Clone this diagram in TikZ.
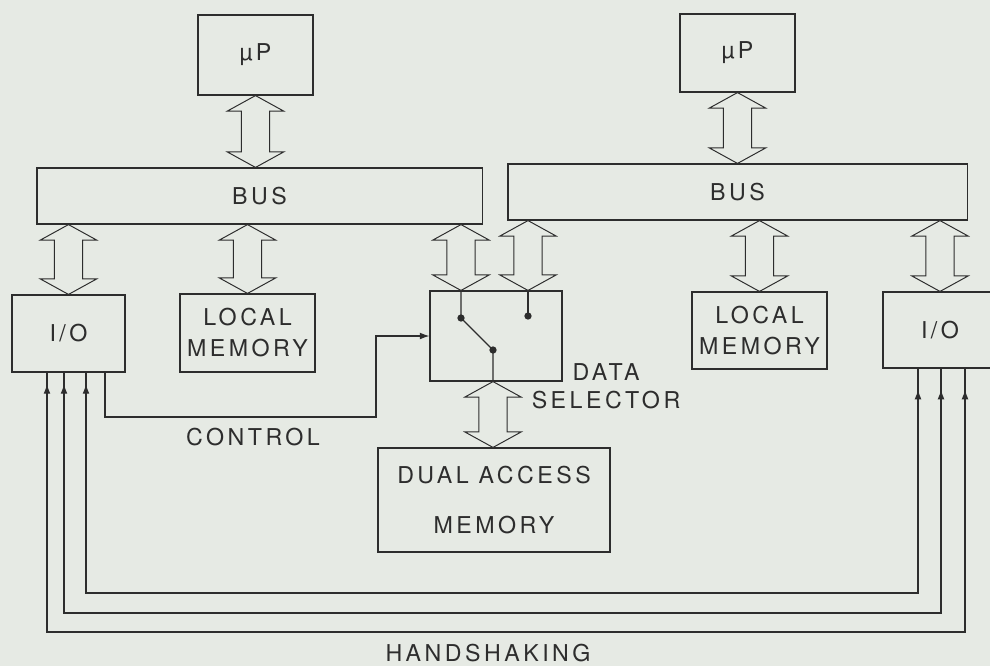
\documentclass[tikz,border=0pt]{standalone}
\usepackage{fontspec}
\setmainfont{TeX Gyre Heros}
\newfontfamily\lettering[LetterSpace=15]{TeX Gyre Heros}
\usetikzlibrary{arrows.meta,calc,decorations.markings}
\definecolor{ink}{RGB}{45,45,45}
\definecolor{paper}{RGB}{230,234,228}

% hollow two-headed bus arrow, drawn straight down from #1 to the height of #2
\newcommand{\busarrow}[2]{%
  \draw[fat] let \p1=(#1), \p2=(#2) in
    (\x1,\y1) -- ++(20pt,-11pt) -- ++(-10pt,0pt) -- (\x1+10pt,\y2+11pt)
    -- ++(10pt,0pt) -- (\x1,\y2) -- ++(-20pt,11pt) -- ++(10pt,0pt)
    -- (\x1-10pt,\y1-11pt) -- ++(-10pt,0pt) -- cycle;}

\begin{document}
\begin{tikzpicture}[
  x=0.025cm,y=-0.025cm,
  >={Latex[length=2.4mm,width=1.7mm]},
  box/.style={draw=ink,line width=0.8pt,inner sep=0pt,align=center,text=ink,
    font=\lettering\fontsize{16.5pt}{22pt}\selectfont},
  fat/.style={draw=ink,line width=0.7pt,fill=paper,line join=miter},
  wire/.style={draw=ink,line width=0.8pt},
  hs/.style={wire,color=ink,postaction={decorate},
    decoration={markings,mark=at position 15pt with {\arrow{<}},
      mark=at position -15pt with {\arrow{>}}}},
  lbl/.style={text=ink,inner sep=0pt,align=center,
    font=\lettering\fontsize{16.5pt}{20pt}\selectfont},
]
  \fill[paper] (0,0) rectangle (990,666);
  \useasboundingbox (0,0) rectangle (990,666);

  % processors and buses
  \node[box,minimum width=2.875cm,minimum height=2cm]    (upL)  at (255.5,55)  {µP};
  \node[box,minimum width=2.875cm,minimum height=1.95cm] (upR)  at (737.5,53)  {µP};
  \node[box,minimum width=11.125cm,minimum height=1.4cm] (busL) at (259.5,196) {BUS};
  \node[box,minimum width=11.475cm,minimum height=1.4cm] (busR) at (737.5,192) {BUS};

  % second row
  \node[box,minimum width=2.825cm,minimum height=1.925cm] (ioL)  at (68.5,333.5) {I/O};
  \node[box,minimum width=3.375cm,minimum height=1.95cm]  (memL) at (247.5,333)  {LOCAL\\MEMORY};
  \node[box,minimum width=3.3cm,minimum height=2.25cm]    (sel)  at (496,336)    {};
  \node[box,minimum width=3.375cm,minimum height=1.925cm] (memR) at (759.5,330.5) {LOCAL\\MEMORY};
  \node[box,minimum width=2.85cm,minimum height=1.9cm]    (ioR)  at (940,330)    {I/O};
  \node[box,minimum width=5.8cm,minimum height=2.6cm]     (dam)  at (494,500)
    {DUAL ACCESS\\[13pt]MEMORY};

  % switch inside the data selector
  \coordinate (swL) at (461,318);
  \coordinate (swR) at (528,316);
  \coordinate (swC) at (493,350);
  \draw[wire] (swL |- sel.north) -- (swL) -- (swC) -- (swC |- sel.south);
  \draw[wire] (swR |- sel.north) -- (swR);
  \foreach \c in {swL,swR,swC}
    \fill[ink] (\c) circle (2.6pt);

  % bus arrows
  \busarrow{upL.south}{busL.north}
  \busarrow{upR.south}{busR.north}
  \busarrow{busL.south -| ioL.north}{ioL.north}
  \busarrow{busL.south -| memL.north}{memL.north}
  \busarrow{busL.south -| swL}{sel.north}
  \busarrow{busR.south -| swR}{sel.north}
  \busarrow{busR.south -| memR.north}{memR.north}
  \busarrow{busR.south -| ioR.north}{ioR.north}
  \busarrow{sel.south -| swC}{dam.north}

  % control line
  \coordinate (ctlbend) at (376,417);
  \draw[wire,->] (ioL.south -| 105,0) |- (ctlbend) |- (sel.west);
  \node[lbl] (ctl) at (253,437) {CONTROL};
  \node[lbl] (dsel) at (606,386) {DATA\\SELECTOR};

  % handshaking lines
  \foreach \xl/\yb/\xr in {86/593/918, 64/613/941, 47/632/965}
    \draw[hs] (ioL.south -| \xl,0) -- (\xl,\yb) -- (\xr,\yb) -- (ioR.south -| \xr,0);
  \node[lbl] (hsk) at (488,653) {HANDSHAKING};
\end{tikzpicture}
\end{document}
